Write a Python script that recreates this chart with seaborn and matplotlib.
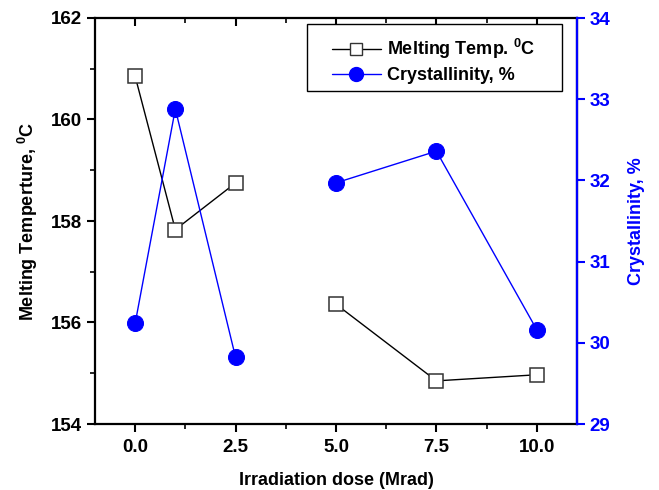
import matplotlib
matplotlib.use("Agg")
import matplotlib.pyplot as plt
from matplotlib.lines import Line2D
from matplotlib.patches import Rectangle
from matplotlib.ticker import MultipleLocator
import numpy as np
import pandas as pd
import seaborn as sns

# ---- data ----
dose = [0.0, 1.0, 2.5, 5.0, 7.5, 10.0]
segment = [0, 0, 0, 1, 1, 1]
melting_temp = [160.85, 157.83, 158.75, 156.36, 154.85, 154.97]
crystallinity = [30.24, 32.88, 29.82, 31.97, 32.36, 30.16]

x_ticks = [0.0, 2.5, 5.0, 7.5, 10.0]
left_ticks = [154, 156, 158, 160, 162]
right_ticks = [29, 30, 31, 32, 33, 34]

df = pd.DataFrame({"dose": dose, "seg": segment,
                   "temp": melting_temp, "cryst": crystallinity})

sns.set_theme(style="white")
plt.rcParams["font.family"] = ["Liberation Sans", "DejaVu Sans"]
plt.rcParams["font.weight"] = "bold"
plt.rcParams["text.color"] = "black"
plt.rcParams["axes.labelcolor"] = "black"
plt.rcParams["xtick.color"] = "black"
plt.rcParams["ytick.color"] = "black"
plt.rcParams["mathtext.fontset"] = "custom"
plt.rcParams["mathtext.rm"] = "Liberation Sans:bold"
plt.rcParams["mathtext.bf"] = "Liberation Sans:bold"
plt.rcParams["mathtext.it"] = "Liberation Sans:bold"

W, H = 659, 490
fig = plt.figure(figsize=(W/100, H/100), dpi=100)
ax = fig.add_axes([95/W, 1-424/H, (577-95)/W, (424-18)/H])
ax2 = ax.twinx()

sns.lineplot(data=df, x="dose", y="temp", units="seg", estimator=None,
             ax=ax, color="black", linewidth=1.0, marker="s", markersize=10,
             markerfacecolor="white", markeredgecolor="#333333",
             markeredgewidth=1.1, legend=False)
sns.lineplot(data=df, x="dose", y="cryst", units="seg", estimator=None,
             ax=ax2, color="blue", linewidth=1.0, marker="o", markersize=11.5,
             markerfacecolor="blue", markeredgecolor="blue", legend=False)

ax.set_xlim(-1, 11)
ax.set_ylim(154, 162)
ax2.set_ylim(29, 34)

TF = 13.5
ax.set_xticks(x_ticks)
ax.set_xticklabels([f"{v:.1f}" for v in x_ticks], fontsize=TF, fontweight="bold")
ax.xaxis.set_minor_locator(MultipleLocator(1.25))
ax.set_yticks(left_ticks)
ax.set_yticklabels([str(v) for v in left_ticks], fontsize=TF, fontweight="bold")
ax.yaxis.set_minor_locator(MultipleLocator(1))
ax2.set_yticks(right_ticks)
ax2.set_yticklabels([str(v) for v in right_ticks], fontsize=TF,
                    fontweight="bold", color="blue")

ax.tick_params(axis="x", which="both", direction="out", bottom=True, top=False)
ax.tick_params(axis="x", which="major", length=6, width=1.5, pad=5)
ax.tick_params(axis="x", which="minor", length=3.5, width=1.2)
ax.tick_params(axis="y", which="both", direction="out", left=True, right=False)
ax.tick_params(axis="y", which="major", length=6, width=1.5, pad=3)
ax.tick_params(axis="y", which="minor", length=3.5, width=1.2)
ax2.tick_params(axis="y", which="major", direction="out", length=6, width=1.5,
                colors="blue", right=True, pad=3)

# top inward ticks
secx = ax.secondary_xaxis("top")
secx.set_xticks(x_ticks)
secx.set_xticklabels([])
secx.xaxis.set_minor_locator(MultipleLocator(1.25))
secx.tick_params(axis="x", which="major", direction="in", length=6, width=1.5)
secx.tick_params(axis="x", which="minor", direction="in", length=3.5, width=1.2)
secx.spines["top"].set_visible(False)

for s in ax.spines.values():
    s.set_linewidth(1.6)
    s.set_color("black")
for name, s in ax2.spines.items():
    s.set_linewidth(1.6)
    s.set_visible(name == "right")
ax2.spines["right"].set_color("blue")

LF = 13
ax.set_xlabel("Irradiation dose (Mrad)", fontsize=LF, fontweight="bold", labelpad=11)
ax.set_ylabel(r"Melting Temperture, $^{0}$C", fontsize=LF, fontweight="bold", labelpad=8)
ax2.set_ylabel("Crystallinity, %", fontsize=LF, fontweight="bold", color="blue", labelpad=13)

# legend frame
frame = Rectangle((307/W, 1-91/H), (562-307)/W, (91-24.5)/H,
                  transform=fig.transFigure, facecolor="white",
                  edgecolor="black", linewidth=1.0, zorder=5)
fig.add_artist(frame)

handles = [
    Line2D([], [], color="black", linewidth=1.0, marker="s", markersize=8,
           markerfacecolor="white", markeredgecolor="#333333"),
    Line2D([], [], color="blue", linewidth=1.0, marker="o", markersize=10,
           markerfacecolor="blue", markeredgecolor="blue"),
]
labels = [r"Melting Temp. $^{0}$C", "Crystallinity, %"]
leg = fig.legend(handles, labels, loc="upper left",
                 bbox_to_anchor=(332/W, 1-37/H),
                 bbox_transform=fig.transFigure,
                 borderaxespad=0, borderpad=0, frameon=False,
                 prop={"family": "Liberation Sans", "weight": "bold", "size": 13},
                 handlelength=2.7, handletextpad=0.35, labelspacing=0.35)
leg.set_zorder(6)

fig.savefig("out.png", dpi=100)
